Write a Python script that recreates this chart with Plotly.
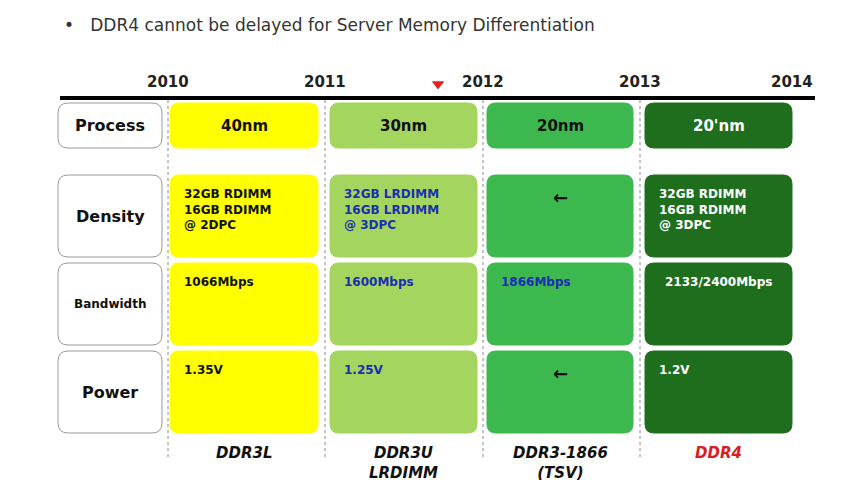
import plotly.graph_objects as go

title = "•   DDR4 cannot be delayed for Server Memory Differentiation"
years = ["2010", "2011", "2012", "2013", "2014"]
year_x = [168, 325, 483, 640, 792]
row_labels = ["Process", "Density", "Bandwidth", "Power"]
row_label_sizes = [16, 16, 12, 16]
row_y = [(103, 148), (175, 257), (263, 345), (351, 433)]
col_x = [(170, 318), (330, 477), (487, 633), (645, 792)]
col_colors = ["#ffff00", "#a3d55f", "#3cb84e", "#1e6e1e"]
col_text_colors = ["#111111", "#1a2fb0", "#1a2fb0", "#ffffff"]
generations = ["DDR3L", "DDR3U<br>LRDIMM", "DDR3-1866<br>(TSV)", "DDR4"]
gen_colors = ["#111111", "#111111", "#111111", "#d81e1e"]
cells = [
    ["40nm", "30nm", "20nm", "20'nm"],
    ["32GB RDIMM<br>16GB RDIMM<br>@ 2DPC", "32GB LRDIMM<br>16GB LRDIMM<br>@ 3DPC", "←", "32GB RDIMM<br>16GB RDIMM<br>@ 3DPC"],
    ["1066Mbps", "1600Mbps", "1866Mbps", "2133/2400Mbps"],
    ["1.35V", "1.25V", "←", "1.2V"],
]

fig = go.Figure()
shapes, ann = [], []
F = "DejaVu Sans"

def rrect(x0, y0, x1, y1, fill, line, r=8):
    path = (f"M{x0+r},{y0} L{x1-r},{y0} Q{x1},{y0} {x1},{y0+r} L{x1},{y1-r} Q{x1},{y1} {x1-r},{y1} "
            f"L{x0+r},{y1} Q{x0},{y1} {x0},{y1-r} L{x0},{y0+r} Q{x0},{y0} {x0+r},{y0} Z")
    return dict(type="path", path=path, fillcolor=fill, line=dict(color=line, width=1), layer="below")

ann.append(dict(x=62, y=25, text=title, showarrow=False, xanchor="left", font=dict(family=F, size=17, color="#333")))
for yx, yr in zip(year_x, years):
    ann.append(dict(x=yx, y=82, text=f"<b>{yr}</b>", showarrow=False, font=dict(family=F, size=15, color="#222")))
shapes.append(dict(type="line", x0=60, x1=815, y0=98, y1=98, line=dict(color="black", width=4)))
for vx in year_x[:4]:
    shapes.append(dict(type="line", x0=vx, x1=vx, y0=100, y1=460, line=dict(color="#888", width=1, dash="dot")))
fig.add_trace(go.Scatter(x=[438], y=[84], mode="markers", marker=dict(symbol="triangle-down", size=11, color="#e02020"), hoverinfo="skip"))

for (y0, y1), lab, fs in zip(row_y, row_labels, row_label_sizes):
    shapes.append(rrect(58, y0, 162, y1, "white", "#999", 10))
    ann.append(dict(x=110, y=(y0 + y1) / 2, text=f"<b>{lab}</b>", showarrow=False, font=dict(family=F, size=fs, color="#111")))

for ri, (y0, y1) in enumerate(row_y):
    for ci, (x0, x1) in enumerate(col_x):
        shapes.append(rrect(x0, y0, x1, y1, col_colors[ci], col_colors[ci], 9))
        t = cells[ri][ci]
        if ri == 0 or t == "←":
            ann.append(dict(x=(x0 + x1) / 2, y=(y0 + y1) / 2 if ri == 0 else y0 + 22, text=f"<b>{t}</b>", showarrow=False,
                            font=dict(family=F, size=15 if ri == 0 else 18, color=col_text_colors[ci] if ci in (0, 3) else "#111")))
        else:
            cx = x0 + 12 if ri != 2 or ci != 3 else (x0 + x1) / 2
            ann.append(dict(x=cx, y=y0 + 10, text=f"<b>{t}</b>", showarrow=False, xanchor="left" if cx == x0 + 12 else "center",
                            yanchor="top", align="left", font=dict(family=F, size=12, color=col_text_colors[ci])))

for (x0, x1), g, c in zip(col_x, generations, gen_colors):
    ann.append(dict(x=(x0 + x1) / 2, y=442, text=f"<b><i>{g}</i></b>", showarrow=False, yanchor="top",
                    font=dict(family=F, size=15, color=c)))

fig.update_layout(width=860, height=480, margin=dict(l=0, r=0, t=0, b=0), plot_bgcolor="white", paper_bgcolor="white",
                  shapes=shapes, annotations=ann, showlegend=False,
                  xaxis=dict(range=[8, 868], visible=False, fixedrange=True),
                  yaxis=dict(range=[488, 8], visible=False, fixedrange=True))
fig.write_html("out.html")
